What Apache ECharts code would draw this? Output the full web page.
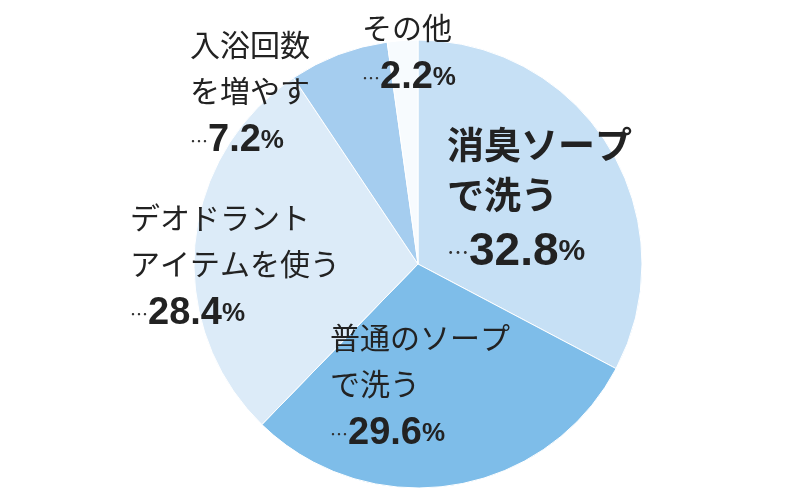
<!DOCTYPE html>
<html><head><meta charset="utf-8">
<script src="https://cdn.jsdelivr.net/npm/echarts@6/dist/echarts.min.js"></script>
<style>html,body{margin:0;background:#fff}#c{width:800px;height:500px}</style></head>
<body><div id="c"></div>
<script>
const categories = ['消臭ソープ\nで洗う', '普通のソープ\nで洗う', 'デオドラント\nアイテムを使う', '入浴回数\nを増やす', 'その他'];
const values = [32.8, 29.6, 28.4, 7.2, 2.2];
const colors = ['#c6e0f5', '#7ebde9', '#dcebf8', '#a5cdef', '#f7fbfe'];
const labelPos = [[447, 120], [330, 315], [130, 195], [190, 22], [362, 5]];
const big = [true, false, false, false, false];
const chart = echarts.init(document.getElementById('c'));
chart.setOption({
  animation: false,
  series: [{
    type: 'pie', center: [418, 264], radius: 224, startAngle: 90, clockwise: true,
    itemStyle: { borderColor: '#fff', borderWidth: 1 },
    data: categories.map((n, i) => ({ name: n, value: values[i], itemStyle: { color: colors[i] },
      label: { formatter: big[i] ? '{bn|{b}}\n{bd|…}{bv|{c}}{bp|%}' : '{n|{b}}\n{d|…}{v|{c}}{p|%}' } })),
    label: {
      position: 'inside', color: '#222', align: 'left', fontFamily: 'Noto Sans CJK JP',
      rich: {
        bn: { fontSize: 37, fontWeight: 'bold', lineHeight: 50, color: '#222', fontFamily: 'Noto Sans CJK JP' },
        bd: { fontSize: 22, color: '#333', lineHeight: 64 },
        bv: { fontSize: 46, fontWeight: 'bold', fontFamily: 'Liberation Sans', color: '#222', lineHeight: 64 },
        bp: { fontSize: 30, fontWeight: 'bold', fontFamily: 'Liberation Sans', color: '#222', lineHeight: 64 },
        n: { fontSize: 30, lineHeight: 46, color: '#222', fontFamily: 'Noto Sans CJK JP' },
        d: { fontSize: 18, color: '#333', lineHeight: 54 },
        v: { fontSize: 38, fontWeight: 'bold', fontFamily: 'Liberation Sans', color: '#222', lineHeight: 54 },
        p: { fontSize: 26, fontWeight: 'bold', fontFamily: 'Liberation Sans', color: '#222', lineHeight: 54 }
      }
    },
    labelLine: { show: false },
    labelLayout: p => ({ x: labelPos[p.dataIndex][0], y: labelPos[p.dataIndex][1], align: 'left', verticalAlign: 'top' })
  }]
});
</script></body></html>
